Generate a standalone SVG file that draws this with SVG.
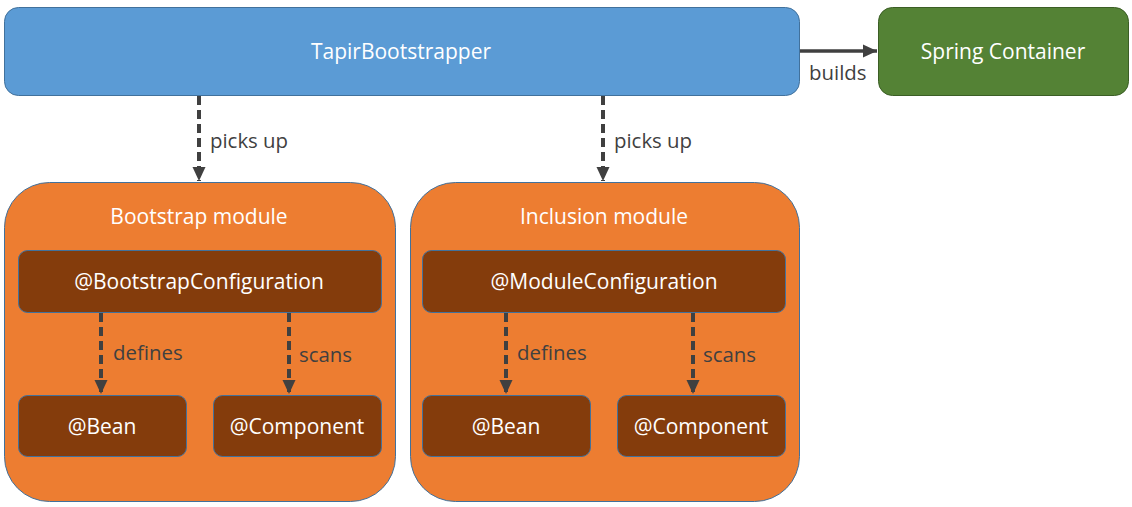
<svg xmlns="http://www.w3.org/2000/svg" width="1132" height="507" viewBox="0 0 1132 507">
<defs>
<style>
text{font-family:"Open Sans","Noto Sans","Liberation Sans",sans-serif;font-size:20px}
.w{fill:#fff;text-anchor:middle;dominant-baseline:central;font-size:21px}
.l{fill:#404040;font-size:20.4px}
.blue{fill:#5B9BD5;stroke:#41719C;stroke-width:1}
.green{fill:#548235;stroke:#3B5E25;stroke-width:1}
.mod{fill:#ED7D31;stroke:#41719C;stroke-width:1}
.brown{fill:#843C0C;stroke:#41719C;stroke-width:1}
.dash{stroke:#404040;stroke-width:4;stroke-dasharray:9 5;fill:none}
.solid{stroke:#404040;stroke-width:3.5;fill:none}
</style>
<marker id="ah" markerUnits="userSpaceOnUse" markerWidth="14" markerHeight="14" viewBox="0 0 14 14" refX="14" refY="7" orient="auto">
<path d="M0,0.5 L14,7 L0,13.5 Z" fill="#404040"/>
</marker>
</defs>
<rect width="1132" height="507" fill="#fff"/>
<g id="tapir"><rect class="blue" x="4.5" y="7.5" width="795" height="88" rx="14"/><text class="w" x="401" y="51">TapirBootstrapper</text></g>
<g id="spring"><rect class="green" x="878.5" y="7.5" width="250" height="88" rx="14"/><text class="w" x="1003" y="51">Spring Container</text></g>
<g id="bootstrap-module"><rect class="mod" x="4.5" y="182.5" width="391" height="319" rx="45"/><text class="w" x="199" y="216">Bootstrap module</text></g>
<g id="inclusion-module"><rect class="mod" x="410.5" y="182.5" width="389" height="319" rx="45"/><text class="w" x="604" y="216">Inclusion module</text></g>
<g id="bootstrap-config"><rect class="brown" x="18.5" y="250.5" width="363" height="62" rx="9"/><text class="w" x="199" y="281">@BootstrapConfiguration</text></g>
<g id="bootstrap-bean"><rect class="brown" x="18.5" y="395.5" width="168" height="61" rx="9"/><text class="w" x="102" y="426">@Bean</text></g>
<g id="bootstrap-component"><rect class="brown" x="213.5" y="395.5" width="168" height="61" rx="9"/><text class="w" x="297" y="426">@Component</text></g>
<g id="module-config"><rect class="brown" x="422.5" y="250.5" width="363" height="62" rx="9"/><text class="w" x="604" y="281">@ModuleConfiguration</text></g>
<g id="module-bean"><rect class="brown" x="422.5" y="395.5" width="168" height="61" rx="9"/><text class="w" x="506" y="426">@Bean</text></g>
<g id="module-component"><rect class="brown" x="617.5" y="395.5" width="168" height="61" rx="9"/><text class="w" x="701" y="426">@Component</text></g>
<g id="connectors">
<path class="solid" d="M800,51 L877,51" marker-end="url(#ah)"/>
<text class="l" x="809" y="80">builds</text>
<path class="dash" d="M199,96 L199,181" marker-end="url(#ah)"/>
<text class="l" x="210" y="148">picks up</text>
<path class="dash" d="M603,96 L603,181" marker-end="url(#ah)"/>
<text class="l" x="614" y="148">picks up</text>
<path class="dash" d="M101,313 L101,394" marker-end="url(#ah)"/>
<text class="l" x="113" y="360">defines</text>
<path class="dash" d="M289,313 L289,394" marker-end="url(#ah)"/>
<text class="l" x="299" y="362">scans</text>
<path class="dash" d="M506,313 L506,394" marker-end="url(#ah)"/>
<text class="l" x="517" y="360">defines</text>
<path class="dash" d="M693,313 L693,394" marker-end="url(#ah)"/>
<text class="l" x="703" y="362">scans</text>
</g>
</svg>
